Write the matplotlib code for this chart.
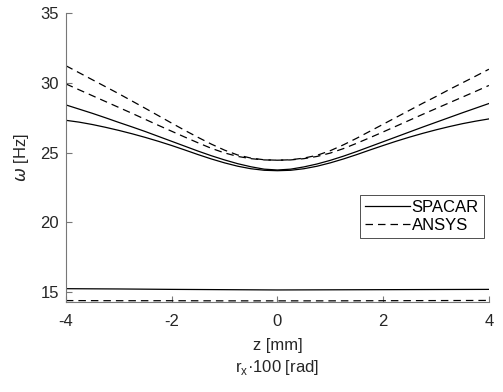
import matplotlib.pyplot as plt
import numpy as np

plt.rcParams['font.family'] = ['Liberation Sans', 'DejaVu Sans']
plt.rcParams['axes.unicode_minus'] = False

# z positions [mm]
z = [-4, -3.75, -3.5, -3.25, -3, -2.75, -2.5, -2.25, -2, -1.75, -1.5, -1.25, -1, -0.75, -0.5, -0.25, 0,
     0.25, 0.5, 0.75, 1, 1.25, 1.5, 1.75, 2, 2.25, 2.5, 2.75, 3, 3.25, 3.5, 3.75, 4]
z_low = [-4, -3, -2, -1, 0, 1, 2, 3, 4]

# SPACAR eigenfrequencies [Hz]
spacar_1 = [15.27, 15.25, 15.22, 15.2, 15.18, 15.19, 15.2, 15.21, 15.22]
spacar_2 = [27.3, 27.17, 27.0, 26.8, 26.58, 26.34, 26.08, 25.8, 25.5, 25.18, 24.85, 24.54, 24.26, 24.02, 23.84, 23.73, 23.7,
            23.73, 23.84, 24.02, 24.26, 24.54, 24.85, 25.18, 25.5, 25.81, 26.1, 26.37, 26.62, 26.85, 27.06, 27.24, 27.4]
spacar_3 = [28.4, 28.1, 27.8, 27.48, 27.15, 26.83, 26.5, 26.15, 25.8, 25.45, 25.1, 24.77, 24.47, 24.2, 23.98, 23.81, 23.75,
            23.81, 23.97, 24.18, 24.44, 24.74, 25.07, 25.42, 25.77, 26.12, 26.47, 26.82, 27.16, 27.5, 27.84, 28.17, 28.5]

# ANSYS eigenfrequencies [Hz]
ansys_1 = [14.42, 14.41, 14.41, 14.4, 14.4, 14.4, 14.41, 14.42, 14.43]
ansys_2 = [29.9, 29.48, 29.06, 28.64, 28.22, 27.8, 27.37, 26.94, 26.52, 26.1, 25.69, 25.3, 24.97, 24.72, 24.56, 24.47, 24.45,
           24.47, 24.56, 24.72, 24.96, 25.28, 25.66, 26.06, 26.47, 26.89, 27.31, 27.73, 28.14, 28.55, 28.96, 29.37, 29.79]
ansys_3 = [31.2, 30.7, 30.2, 29.7, 29.2, 28.68, 28.16, 27.63, 27.1, 26.58, 26.08, 25.6, 25.17, 24.82, 24.6, 24.48, 24.45,
           24.48, 24.6, 24.8, 25.13, 25.55, 26.02, 26.52, 27.02, 27.52, 28.02, 28.52, 29.0, 29.5, 29.98, 30.46, 30.95]

fig = plt.figure(figsize=(5.03, 3.92), dpi=100)
ax = fig.add_axes([0.131, 0.23, 0.841, 0.738])

lw = 0.9
dash = (0, (6, 4))
ax.plot(z_low, spacar_1, color='k', lw=lw, label='SPACAR')
ax.plot(z, spacar_2, color='k', lw=lw)
ax.plot(z, spacar_3, color='k', lw=lw)
ax.plot(z_low, ansys_1, color='k', lw=lw, ls=dash, label='ANSYS')
ax.plot(z, ansys_2, color='k', lw=lw, ls=dash)
ax.plot(z, ansys_3, color='k', lw=lw, ls=dash)

ax.set_xlim(-4, 4)
ax.set_ylim(14.33, 35)
ax.set_xticks([-4, -2, 0, 2, 4])
ax.set_yticks([15, 20, 25, 30, 35])

# only left and bottom axes, ticks pointing inward
ax.spines['right'].set_color('none')
ax.spines['top'].set_color('none')
for s in ['left', 'bottom']:
    ax.spines[s].set_color('#777777')
    ax.spines[s].set_linewidth(0.8)
ax.tick_params(direction='in', length=4, width=0.8, color='#777777',
               labelsize=12, labelcolor='#262626')
ax.tick_params(axis='x', pad=9)
ax.tick_params(axis='y', pad=5)

ax.set_xlabel('z [mm]\nr$_\\mathregular{x}$·100 [rad]', fontsize=12, color='#262626',
              linespacing=1.4, labelpad=6)
ax.set_ylabel('$\\omega$ [Hz]', fontsize=12, color='#262626', labelpad=7)

leg = ax.legend(loc='upper left', bbox_to_anchor=(0.695, 0.37), fontsize=12,
                frameon=True, fancybox=False, edgecolor='k', handlelength=2.7,
                handletextpad=0.1, borderpad=0.3, borderaxespad=0, labelspacing=0.2)
leg.get_frame().set_linewidth(0.6)

fig.savefig('out.png', dpi=100)
